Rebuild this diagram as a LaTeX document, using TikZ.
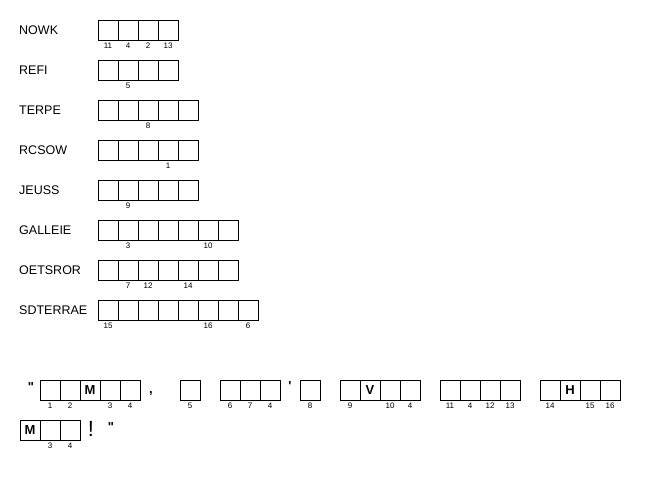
\documentclass[tikz,border=0pt]{standalone}
\usepackage{fontspec}
\setmainfont{Liberation Sans}
\usetikzlibrary{positioning}
% row of empty cells: name, count, left x, centre y
\newcommand{\cellrow}[4]{\foreach \i in {1,...,#2} \node[cell] (#1\i) at ({#3+20*\i-10},#4) {};}

\begin{document}
\begin{tikzpicture}[x=1pt,y=-1pt,
    cell/.style={draw=black,line width=0.75pt,minimum size=20pt,inner sep=0pt},
    clue/.style={anchor=west,inner sep=0pt,font=\fontsize{12.5}{12.5}\selectfont},
    num/.style={inner sep=0pt,font=\fontsize{8}{8}\selectfont},
    given/.style={inner sep=0pt,font=\bfseries\fontsize{13}{13}\selectfont},
    punct/.style={inner sep=0pt,font=\bfseries\fontsize{13}{13}\selectfont},
    node distance=2pt]
    \useasboundingbox (0,0) rectangle (660,480);

    % scrambled words
    \node[clue] (NOWK) at (19,30) {NOWK};
    \cellrow{nowk}{4}{98}{30}
    \node[num,below=of nowk1] {11};
    \node[num,below=of nowk2] {4};
    \node[num,below=of nowk3] {2};
    \node[num,below=of nowk4] {13};

    \node[clue] (REFI) at (19,70) {REFI};
    \cellrow{refi}{4}{98}{70}
    \node[num,below=of refi2] {5};

    \node[clue] (TERPE) at (19,110) {TERPE};
    \cellrow{terpe}{5}{98}{110}
    \node[num,below=of terpe3] {8};

    \node[clue] (RCSOW) at (19,150) {RCSOW};
    \cellrow{rcsow}{5}{98}{150}
    \node[num,below=of rcsow4] {1};

    \node[clue] (JEUSS) at (19,190) {JEUSS};
    \cellrow{jeuss}{5}{98}{190}
    \node[num,below=of jeuss2] {9};

    \node[clue] (GALLEIE) at (19,230) {GALLEIE};
    \cellrow{galleie}{7}{98}{230}
    \node[num,below=of galleie2] {3};
    \node[num,below=of galleie6] {10};

    \node[clue] (OETSROR) at (19,270) {OETSROR};
    \cellrow{oetsror}{7}{98}{270}
    \node[num,below=of oetsror2] {7};
    \node[num,below=of oetsror3] {12};
    \node[num,below=of oetsror5] {14};

    \node[clue] (SDTERRAE) at (19,310) {SDTERRAE};
    \cellrow{sdterrae}{8}{98}{310}
    \node[num,below=of sdterrae1] {15};
    \node[num,below=of sdterrae6] {16};
    \node[num,below=of sdterrae8] {6};

    % the quote
    \node[punct] (qopen) at (31,387) {\textquotedbl};
    \cellrow{sa}{5}{40}{390}
    \node[given] (sam) at (sa3) {M};
    \node[num,below=of sa1] {1};
    \node[num,below=of sa2] {2};
    \node[num,below=of sa4] {3};
    \node[num,below=of sa5] {4};
    \node[punct] (comma) at (151,394) {,};

    \cellrow{sb}{1}{180}{390}
    \node[num,below=of sb1] {5};

    \cellrow{sc}{3}{220}{390}
    \node[num,below=of sc1] {6};
    \node[num,below=of sc2] {7};
    \node[num,below=of sc3] {4};
    \node[punct] (apos) at (290,386) {\textquotesingle};

    \cellrow{sd}{1}{300}{390}
    \node[num,below=of sd1] {8};

    \cellrow{se}{4}{340}{390}
    \node[given] (sev) at (se2) {V};
    \node[num,below=of se1] {9};
    \node[num,below=of se3] {10};
    \node[num,below=of se4] {4};

    \cellrow{sf}{4}{440}{390}
    \node[num,below=of sf1] {11};
    \node[num,below=of sf2] {4};
    \node[num,below=of sf3] {12};
    \node[num,below=of sf4] {13};

    \cellrow{sg}{4}{540}{390}
    \node[given] (sgh) at (sg2) {H};
    \node[num,below=of sg1] {14};
    \node[num,below=of sg3] {15};
    \node[num,below=of sg4] {16};

    \cellrow{sh}{3}{20}{430}
    \node[given] (shm) at (sh1) {M};
    \node[num,below=of sh2] {3};
    \node[num,below=of sh3] {4};
    \node[punct,font=\fontsize{22}{22}\selectfont] (bang) at (91,429) {!};
    \node[punct] (qclose) at (111,427) {\textquotedbl};
\end{tikzpicture}
\end{document}
